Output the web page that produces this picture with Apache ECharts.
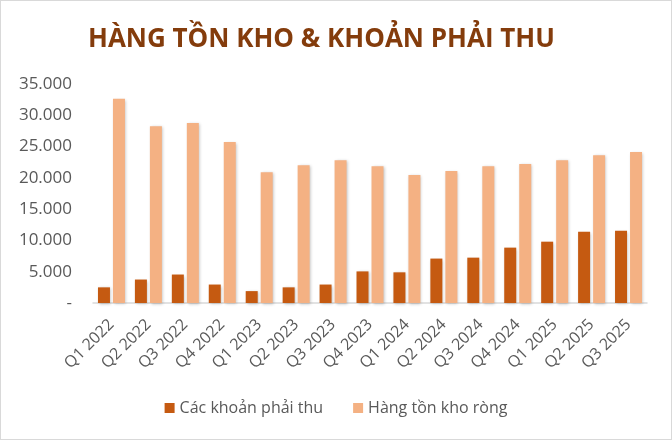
<!DOCTYPE html>
<html>
<head>
<meta charset="utf-8">
<script src="https://cdn.jsdelivr.net/npm/echarts@6/dist/echarts.min.js"></script>
<style>
html,body{margin:0;padding:0;background:#fff;}
#c{width:670px;height:438px;border:1px solid #D9D9D9;}
</style>
</head>
<body>
<div id="c"></div>
<script>
var categories = ["Q1 2022","Q2 2022","Q3 2022","Q4 2022","Q1 2023","Q2 2023","Q3 2023","Q4 2023","Q1 2024","Q2 2024","Q3 2024","Q4 2024","Q1 2025","Q2 2025","Q3 2025"];
var receivables = [2500,3750,4550,2950,1900,2500,2950,5050,4900,7100,7250,8850,9800,11400,11550];
var inventory = [32650,28250,28750,25750,20900,22000,22800,21850,20450,21100,21850,22200,22800,23600,24150];
var seriesNames = ["Các khoản phải thu","Hàng tồn kho ròng"];
var titleText = "HÀNG TỒN KHO & KHOẢN PHẢI THU";

var chart = echarts.init(document.getElementById('c'));
function fmt(v){ if(v===0) return '-'; return String(v).replace(/\B(?=(\d{3})+(?!\d))/g,'.'); }
chart.setOption({
  animation:false,
  title:{text:titleText,left:82,top:21,textStyle:{fontFamily:'Open Sans',fontWeight:'bold',fontSize:26,color:'#843C0C'}},
  legend:{bottom:18,left:'center',itemWidth:10,itemHeight:10,itemGap:30,icon:'rect',
    textStyle:{fontFamily:'Open Sans',fontSize:16,color:'#595959'},data:seriesNames},
  grid:{left:92,right:24,top:83,bottom:136,containLabel:false},
  xAxis:{type:'category',data:categories,
    axisLine:{lineStyle:{color:'#D9D9D9',width:1.5}},axisTick:{show:false},
    axisLabel:{rotate:45,fontFamily:'Open Sans',fontSize:16,color:'#595959',margin:19,interval:0}},
  yAxis:{type:'value',min:0,max:35000,interval:5000,
    axisLine:{show:false},axisTick:{show:false},splitLine:{show:false},
    axisLabel:{formatter:fmt,fontFamily:'Open Sans',fontSize:17,color:'#595959',margin:21}},
  series:[
    {name:seriesNames[0],type:'bar',data:receivables,barWidth:12,barGap:'25%',
     itemStyle:{color:'#C55A11',shadowColor:'rgba(0,0,0,0.25)',shadowBlur:3,shadowOffsetX:1,shadowOffsetY:1}},
    {name:seriesNames[1],type:'bar',data:inventory,barWidth:12,
     itemStyle:{color:'#F4B183',shadowColor:'rgba(0,0,0,0.25)',shadowBlur:3,shadowOffsetX:1,shadowOffsetY:1}}
  ]
});
</script>
</body>
</html>
